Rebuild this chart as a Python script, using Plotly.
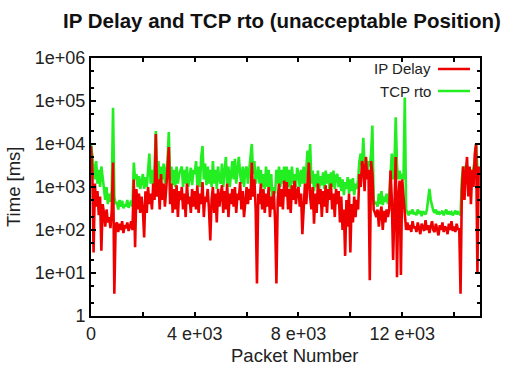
import plotly.graph_objects as go

# Packet numbers (every 50 packets)
packets = list(range(0, 15000, 50))

# IP Delay [ms]
ip_delay = [
    9000, 2500, 30, 1200, 350, 800, 220, 600, 33, 400,
    250, 120, 300, 150, 200, 110, 280, 3700, 3.3, 130,
    150, 90, 140, 100, 160, 85, 130, 110, 150, 95,
    120, 160, 100, 1500, 40, 900, 300, 700, 250, 600,
    300, 67, 800, 250, 1000, 400, 700, 300, 1200, 500,
    17000, 600, 1500, 300, 2000, 500, 1200, 350, 900, 2500,
    8500, 400, 1200, 250, 900, 300, 1100, 200, 800, 500,
    1000, 300, 700, 200, 1200, 400, 600, 250, 900, 350,
    800, 300, 1100, 250, 700, 400, 1300, 200, 600, 450,
    900, 300, 57, 500, 1000, 250, 700, 150, 900, 350,
    600, 1100, 250, 800, 300, 1200, 200, 700, 400, 900,
    350, 1000, 250, 700, 500, 1300, 300, 800, 200, 600,
    1000, 400, 900, 500, 3700, 600, 1500, 300, 5.7, 700,
    400, 1200, 300, 900, 250, 700, 350, 1000, 200, 600,
    300, 800, 150, 5.7, 500, 1200, 350, 900, 300, 1400,
    600, 1300, 300, 900, 250, 1100, 500, 1400, 400, 800,
    1000, 350, 700, 80, 500, 1200, 400, 1500, 3700, 600,
    300, 1000, 140, 700, 250, 1200, 400, 900, 200, 800,
    350, 1100, 250, 900, 500, 1200, 300, 700, 200, 900,
    400, 800, 150, 600, 100, 300, 25, 500, 120, 700,
    30, 400, 150, 600, 200, 500, 300, 2000, 1000, 4000,
    3000, 800, 5000, 1500, 2500, 6.8, 4000, 2000, 300, 250,
    200, 300, 120, 250, 350, 100, 280, 150, 300, 200,
    300, 2400, 500, 20, 800, 5000, 8, 600, 1400, 9,
    1500, 600, 300, 100, 150, 100, 130, 90, 160, 110,
    120, 90, 150, 100, 80, 140, 110, 95, 170, 100,
    130, 85, 120, 160, 100, 90, 140, 110, 75, 130,
    100, 150, 90, 120, 110, 80, 140, 100, 160, 95,
    120, 90, 140, 100, 110, 3.3, 800, 3000, 500, 2000,
    5000, 600, 3000, 400, 2500, 1000, 6000, 10000, 10, 3000,
]

# TCP rto [ms]
tcp_rto = [
    10000, 5000, 3000, 1500, 4000, 1200, 2500, 1000, 3000, 1500,
    900, 500, 1000, 400, 700, 450, 800, 70000, 600, 400,
    450, 300, 500, 350, 480, 320, 400, 350, 500, 330,
    400, 480, 350, 3700, 1500, 2000, 1000, 1800, 900, 1500,
    2000, 900, 1700, 1000, 2000, 6000, 1200, 2500, 1000, 3000,
    20000, 1500, 4000, 1200, 3000, 1500, 3500, 1200, 2500, 4000,
    19000, 1500, 3000, 1100, 2500, 1000, 3000, 1200, 2000, 2500,
    3000, 1000, 2500, 1200, 3000, 1000, 2000, 2800, 1100, 2500,
    2000, 4000, 1100, 3000, 1000, 5000, 9000, 1500, 3500, 1100,
    3000, 1200, 2500, 1000, 4000, 1200, 2500, 900, 3000, 1500,
    1200, 3500, 1000, 2500, 5000, 1200, 3000, 1000, 2500, 4000,
    1500, 4500, 1200, 3000, 5000, 2000, 1200, 3000, 1000, 2500,
    3000, 1200, 2500, 4000, 10000, 2000, 4000, 1200, 2000, 3000,
    1200, 2500, 1000, 2000, 900, 3000, 1000, 2500, 800, 2000,
    400, 1000, 700, 2500, 1200, 3000, 1000, 2500, 1200, 3000,
    1200, 3000, 1000, 2500, 900, 3000, 1200, 2000, 1000, 2800,
    2000, 1000, 2500, 1200, 3000, 1200, 2500, 7000, 3000, 10000,
    1200, 2400, 800, 2000, 1000, 2400, 900, 1800, 1100, 2200,
    900, 2400, 1200, 2000, 800, 2200, 1000, 2400, 900, 1800,
    2000, 1000, 1700, 800, 1500, 650, 1300, 900, 1700, 700,
    1500, 800, 1600, 650, 1200, 900, 1500, 4000, 6000, 3000,
    14000, 3000, 5000, 2000, 4000, 3000, 6000, 27000, 500, 400,
    450, 350, 700, 400, 800, 380, 600, 450, 700, 400,
    600, 2000, 6000, 1500, 3000, 42000, 3000, 1500, 2400, 1500,
    2000, 1500, 120000, 300, 250, 220, 280, 240, 300, 230,
    260, 220, 300, 240, 280, 210, 270, 250, 230, 290,
    600, 900, 500, 350, 280, 250, 300, 230, 270, 240,
    250, 280, 220, 260, 300, 230, 270, 240, 260, 220,
    250, 280, 230, 260, 240, 220, 1500, 3000, 1500, 3000,
    3000, 1200, 2500, 1500, 2000, 3000, 4000, 10000, 2500, 3000,
]

x_tickvals = [0, 4000, 8000, 12000]
x_ticktext = ["0", "4 e+03", "8 e+03", "12 e+03"]
y_tickvals = [1, 10, 100, 1000, 10000, 100000, 1000000]
y_ticktext = ["1", "1e+01", "1e+02", "1e+03", "1e+04", "1e+05", "1e+06"]

RED = "#ee0000"
GREEN = "#22ee22"
FONT = "Liberation Sans, Arial, Helvetica, sans-serif"

fig = go.Figure()
fig.add_trace(go.Scatter(x=packets, y=tcp_rto, mode="lines", name="TCP rto",
                         line=dict(color=GREEN, width=2.6), showlegend=False))
fig.add_trace(go.Scatter(x=packets, y=ip_delay, mode="lines", name="IP Delay",
                         line=dict(color=RED, width=2.6), showlegend=False))

fig.update_layout(
    width=510, height=366,
    margin=dict(l=91, r=30, t=58, b=50),
    paper_bgcolor="white", plot_bgcolor="white",
    font=dict(family=FONT, size=18, color="#222"),
    title=dict(text="<b>IP Delay and TCP rto (unacceptable Position)</b>",
               x=(282 - 91) / 389, xref="paper", xanchor="center",
               y=1 - 21 / 366, yref="container", yanchor="middle",
               font=dict(size=20.5, color="#111")),
)
fig.update_xaxes(
    range=[0, 15000], tickvals=x_tickvals, ticktext=x_ticktext,
    ticks="inside", ticklen=4, tickwidth=1.5, tickcolor="black",
    showline=True, linecolor="black", linewidth=2, mirror="ticks",
    showgrid=False, zeroline=False,
    minor=dict(dtick=2000, tick0=0, ticks="inside", ticklen=4, tickcolor="black", showgrid=False),
)
fig.update_yaxes(
    type="log", range=[0, 6], tickvals=y_tickvals, ticktext=y_ticktext,
    ticks="inside", ticklen=5, tickwidth=1.5, tickcolor="black",
    showline=True, linecolor="black", linewidth=2, mirror="ticks",
    showgrid=False, zeroline=False,
    minor=dict(ticks="inside", ticklen=3, tickcolor="black", showgrid=False),
)

# axis titles
fig.add_annotation(text="Time [ms]", xref="paper", yref="paper", x=-78 / 389, y=0.5,
                   textangle=-90, showarrow=False, xanchor="center", yanchor="middle",
                   font=dict(size=18.5))
fig.add_annotation(text="Packet Number", xref="paper", yref="paper", x=(295 - 91) / 389,
                   y=-(355 - 316) / 258, showarrow=False, xanchor="center", yanchor="middle",
                   font=dict(size=18.5))

# gnuplot-style key (text left of line sample)
key = [("IP Delay", RED, 69), ("TCP rto", GREEN, 91)]
for label, color, ypx in key:
    yp = (316 - ypx) / 258
    fig.add_annotation(text=label, xref="paper", yref="paper", x=(433 - 91) / 389, y=yp,
                       showarrow=False, xanchor="right", yanchor="middle", font=dict(size=15))
    fig.add_shape(type="line", xref="paper", yref="paper",
                  x0=(438 - 91) / 389, x1=(470 - 91) / 389, y0=yp, y1=yp,
                  line=dict(color=color, width=2.5))

fig.write_html("out.html")
